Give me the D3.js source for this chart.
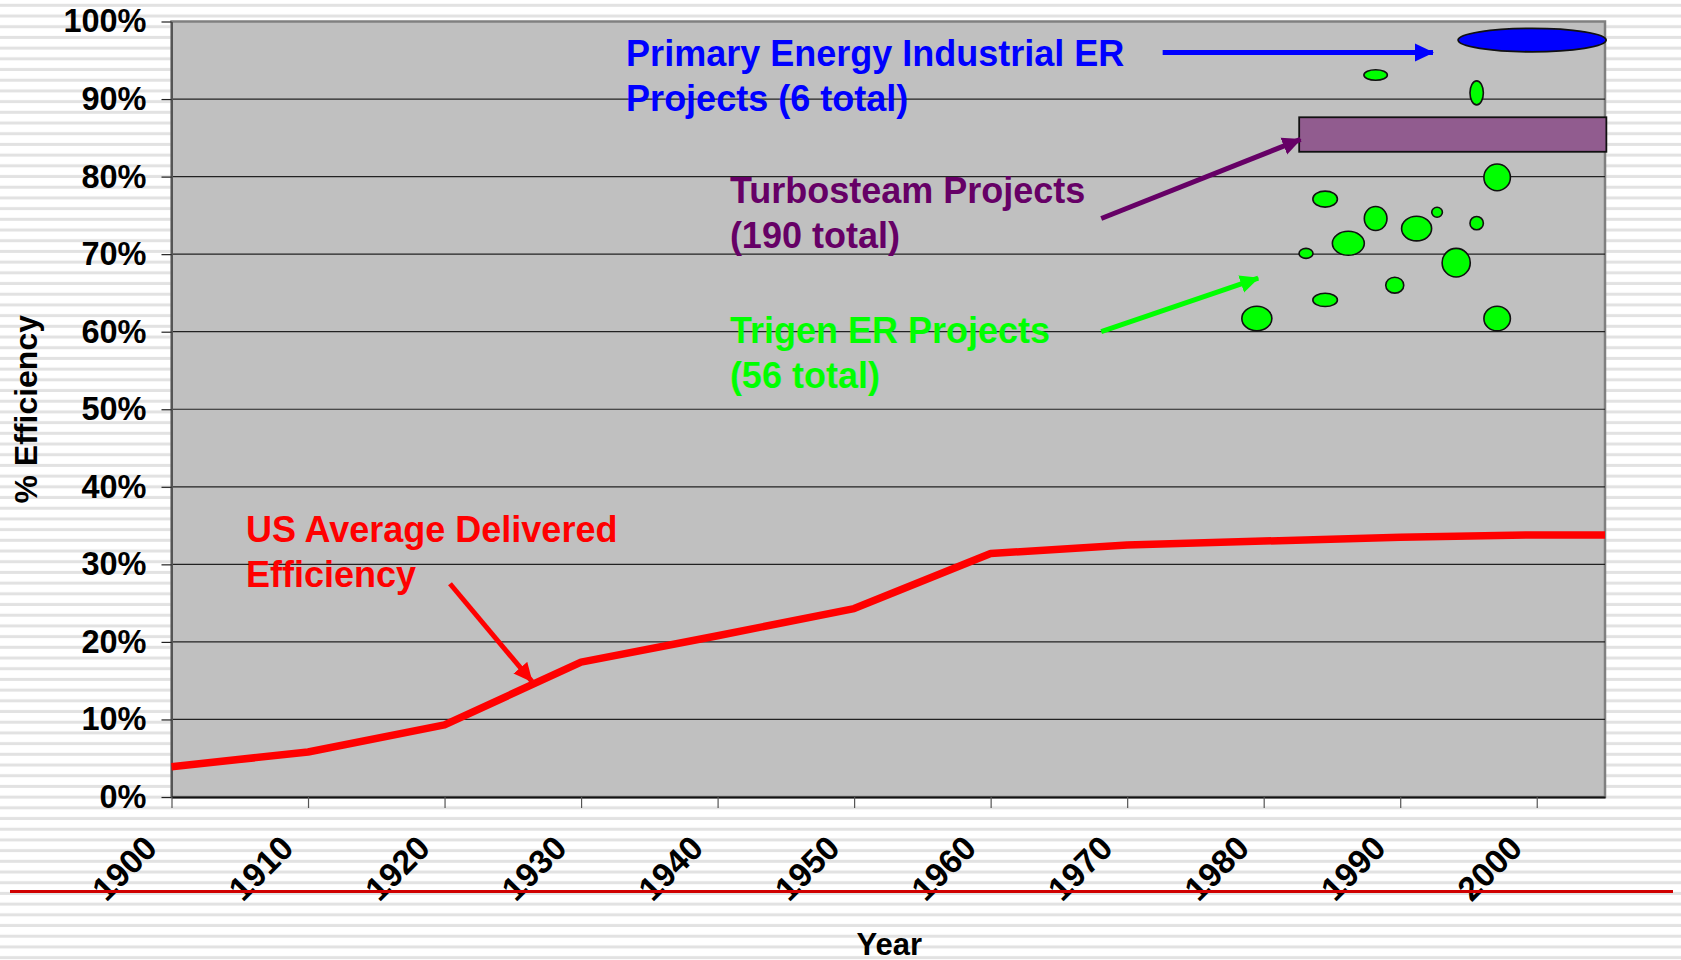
<!DOCTYPE html>
<html>
<head>
<meta charset="utf-8">
<script src="https://cdn.jsdelivr.net/npm/d3@7"></script>
<style>
  body { margin: 0; background: #fff; }
  svg { display: block; font-family: "Liberation Sans", Arial, sans-serif; font-weight: bold; }
</style>
</head>
<body>
<svg id="chart" width="1681" height="960"></svg>
<script>
// US average delivered efficiency (%)
const years = [1900, 1910, 1920, 1930, 1940, 1950, 1960, 1970, 1980, 1990, 2000, 2005];
const efficiency = [3.9, 5.8, 9.3, 17.4, 20.8, 24.3, 31.4, 32.5, 33.0, 33.5, 33.8, 33.8];

// Trigen ER projects: centre (year, %) and half sizes (years, %)
const trigenYear = [1988.2, 1995.6, 1997.1, 1984.5, 1988.2, 1992.7, 1995.6, 1986.2, 1991.2, 1983.1, 1994.1, 1989.6, 1984.5, 1979.5, 1997.1];
const trigenPct = [93.1, 90.8, 79.9, 77.1, 74.6, 75.4, 74.0, 71.4, 73.3, 70.1, 68.9, 66.0, 64.1, 61.7, 61.7];
const trigenRx = [0.86, 0.49, 0.97, 0.90, 0.83, 0.39, 0.49, 1.17, 1.10, 0.51, 1.03, 0.66, 0.90, 1.10, 0.97];
const trigenRy = [0.68, 1.55, 1.72, 1.03, 1.55, 0.64, 0.86, 1.55, 1.59, 0.64, 1.84, 1.03, 0.86, 1.59, 1.59];

// Primary energy industrial ER projects (one band)
const primaryEllipse = [1999.66, 97.6, 5.42, 1.51];
// Turbosteam projects range: years and % efficiency
const turboYears = [1982.6, 2005.1];
const turboPct = [83.2, 87.65];

const yTicks = [0, 10, 20, 30, 40, 50, 60, 70, 80, 90, 100];
const xTicks = [1900, 1910, 1920, 1930, 1940, 1950, 1960, 1970, 1980, 1990, 2000];

// annotations: text lines, anchor (year, %), arrow from/to (year, %)
const notes = [
  { lines: ["Primary Energy Industrial ER", "Projects (6 total)"], color: "#0000ff", at: [1933.3, 94.2], from: [1972.6, 96.0], to: [1992.4, 96.0] },
  { lines: ["Turbosteam Projects", "(190 total)"], color: "#660066", at: [1940.9, 76.6], from: [1968.1, 74.6], to: [1982.7, 84.8] },
  { lines: ["Trigen ER Projects", "(56 total)"], color: "#00ff00", at: [1940.9, 58.5], from: [1968.1, 60.0], to: [1979.6, 66.9] },
  { lines: ["US Average Delivered", "Efficiency"], color: "#ff0000", at: [1905.45, 32.9], from: [1920.4, 27.5], to: [1926.4, 14.9] },
];

const svg = d3.select("#chart");
const margin = { top: 21.5, left: 171.5, right: 76, bottom: 163 };
const width = 1681;
const height = 960;

const x = d3.scaleLinear().domain([1900, 2005]).range([margin.left, width - margin.right]);
const y = d3.scaleLinear().domain([0, 100]).range([height - margin.bottom, margin.top]);

// striped slide background
const defs = svg.append("defs");
const stripes = defs.append("pattern")
  .attr("id", "stripes")
  .attr("patternUnits", "userSpaceOnUse")
  .attr("width", 20)
  .attr("height", 10.7);
stripes.append("rect").attr("width", 20).attr("height", 10.7).attr("fill", "#ffffff");
stripes.append("rect").attr("y", 3.8).attr("width", 20).attr("height", 3).attr("fill", "#e2e2e2");

for (const note of notes) {
  defs.append("marker")
    .attr("id", `head-${note.color.slice(1)}`)
    .attr("markerUnits", "userSpaceOnUse")
    .attr("viewBox", "0 -10 20 20")
    .attr("refX", 18)
    .attr("refY", 0)
    .attr("markerWidth", 20)
    .attr("markerHeight", 20)
    .attr("orient", "auto")
    .append("path")
    .attr("d", "M0,-9L19,0L0,9Z")
    .attr("fill", note.color);
}

svg.append("rect").attr("width", width).attr("height", height).attr("fill", "url(#stripes)");

// plot area
svg.append("rect")
  .attr("x", x(1900))
  .attr("y", y(100))
  .attr("width", x(2005) - x(1900))
  .attr("height", y(0) - y(100))
  .attr("fill", "#c0c0c0")
  .attr("stroke", "#808080")
  .attr("stroke-width", 2.5);

svg.append("g")
  .selectAll("line")
  .data(yTicks.filter((t) => t > 0 && t < 100))
  .join("line")
  .attr("x1", x(1900))
  .attr("x2", x(2005))
  .attr("y1", (d) => y(d))
  .attr("y2", (d) => y(d))
  .attr("stroke", "#222")
  .attr("stroke-width", 1.2);

// axes
const yAxis = svg.append("g")
  .attr("transform", `translate(${x(1900)},0)`)
  .call(d3.axisLeft(y).tickValues(yTicks).tickFormat((d) => `${d}%`).tickSize(10).tickPadding(15).tickSizeOuter(0));
yAxis.select(".domain").attr("stroke", "#555").attr("stroke-width", 2);
yAxis.selectAll(".tick line").attr("stroke", "#222").attr("stroke-width", 1.2);
yAxis.selectAll("text")
  .attr("fill", "#000")
  .style("font-size", "32.5px")
  .style("font-family", "'Liberation Sans', Arial, sans-serif")
  .style("font-weight", "bold");

const xAxis = svg.append("g")
  .attr("transform", `translate(0,${y(0)})`)
  .call(d3.axisBottom(x).tickValues(xTicks).tickFormat(d3.format("d")).tickSize(11).tickSizeOuter(0));
xAxis.select(".domain").attr("stroke", "#111").attr("stroke-width", 2);
xAxis.selectAll(".tick line").attr("stroke", "#555").attr("stroke-width", 1.2);
xAxis.selectAll("text")
  .attr("fill", "#000")
  .attr("x", 0)
  .attr("y", 0)
  .attr("dy", 0)
  .attr("text-anchor", "end")
  .attr("transform", "translate(-13,53) rotate(-45)")
  .style("font-size", "33.5px")
  .style("font-family", "'Liberation Sans', Arial, sans-serif")
  .style("font-weight", "bold");

svg.append("text")
  .attr("x", (x(1900) + x(2005)) / 2 + 1)
  .attr("y", 955)
  .attr("text-anchor", "middle")
  .style("font-size", "31px")
  .text("Year");

svg.append("text")
  .attr("transform", `translate(37,${(y(0) + y(100)) / 2}) rotate(-90)`)
  .attr("text-anchor", "middle")
  .style("font-size", "32px")
  .text("% Efficiency");

// red rule under the labels
svg.append("line")
  .attr("x1", 10)
  .attr("x2", 1673)
  .attr("y1", 891.5)
  .attr("y2", 891.5)
  .attr("stroke", "#d00000")
  .attr("stroke-width", 3);

// efficiency line
const line = d3.line().x((d, i) => x(years[i])).y((d) => y(d));
svg.append("path")
  .datum(efficiency)
  .attr("d", line)
  .attr("fill", "none")
  .attr("stroke", "#ff0000")
  .attr("stroke-width", 7.5)
  .attr("stroke-linejoin", "round");

// turbosteam band
svg.append("rect")
  .attr("x", x(turboYears[0]))
  .attr("y", y(turboPct[1]))
  .attr("width", x(turboYears[1]) - x(turboYears[0]))
  .attr("height", y(turboPct[0]) - y(turboPct[1]))
  .attr("fill", "#915c8f")
  .attr("stroke", "#111")
  .attr("stroke-width", 1.8);

// primary energy ellipse
svg.append("ellipse")
  .attr("cx", x(primaryEllipse[0]))
  .attr("cy", y(primaryEllipse[1]))
  .attr("rx", x(primaryEllipse[0] + primaryEllipse[2]) - x(primaryEllipse[0]))
  .attr("ry", y(0) - y(primaryEllipse[3]))
  .attr("fill", "#0000ff")
  .attr("stroke", "#111")
  .attr("stroke-width", 1.8);

// trigen ellipses
svg.append("g")
  .selectAll("ellipse")
  .data(trigenYear)
  .join("ellipse")
  .attr("cx", (d) => x(d))
  .attr("cy", (d, i) => y(trigenPct[i]))
  .attr("rx", (d, i) => x(d + trigenRx[i]) - x(d))
  .attr("ry", (d, i) => y(0) - y(trigenRy[i]))
  .attr("fill", "#00ff00")
  .attr("stroke", "#111")
  .attr("stroke-width", 1.6);

// annotations
for (const note of notes) {
  svg.append("line")
    .attr("x1", x(note.from[0]))
    .attr("y1", y(note.from[1]))
    .attr("x2", x(note.to[0]))
    .attr("y2", y(note.to[1]))
    .attr("stroke", note.color)
    .attr("stroke-width", 5)
    .attr("marker-end", `url(#head-${note.color.slice(1)})`);

  const label = svg.append("text")
    .attr("x", x(note.at[0]))
    .attr("y", y(note.at[1]))
    .attr("fill", note.color)
    .style("font-size", "36px");
  label.selectAll("tspan")
    .data(note.lines)
    .join("tspan")
    .attr("x", x(note.at[0]))
    .attr("dy", (d, i) => (i === 0 ? 0 : 45))
    .text((d) => d);
}
</script>
</body>
</html>
